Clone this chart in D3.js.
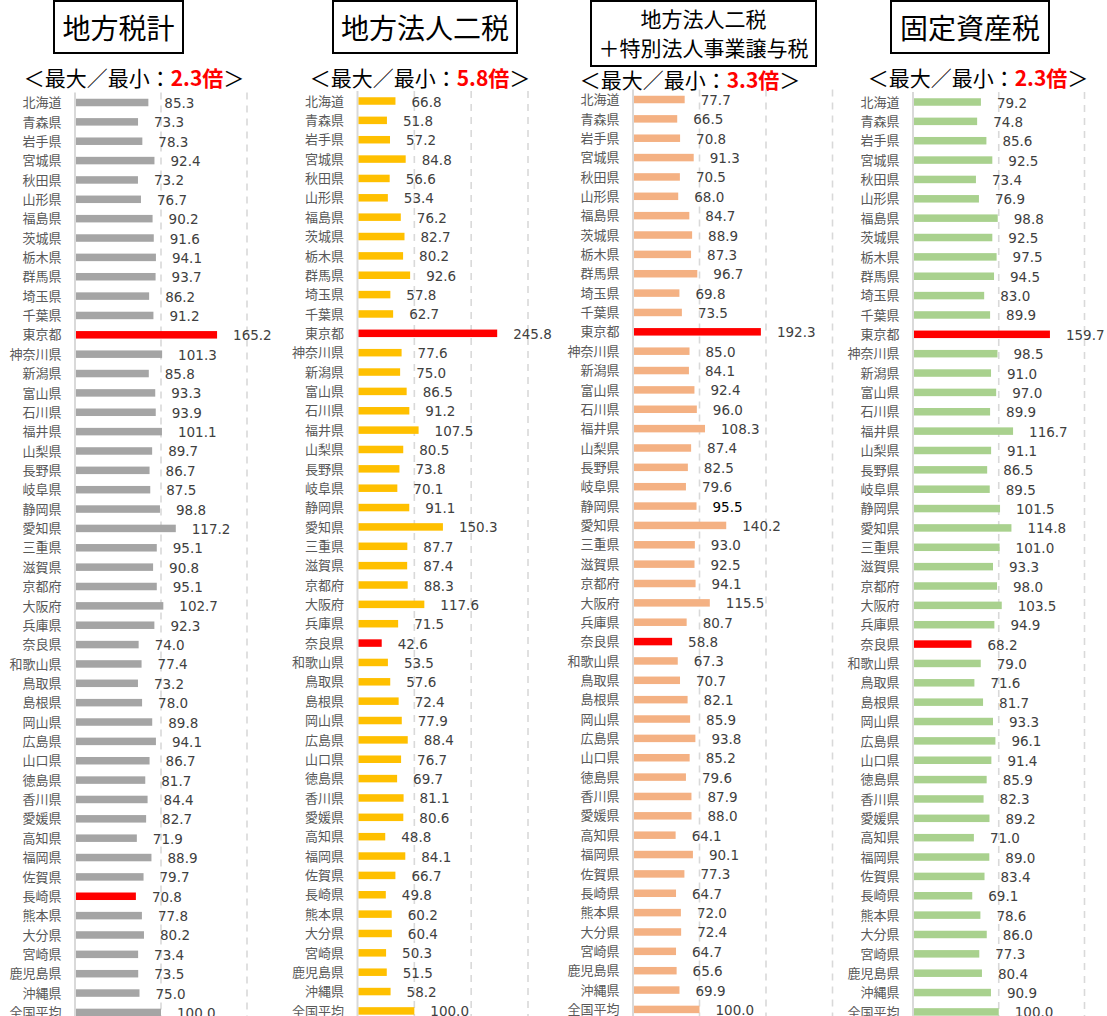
<!DOCTYPE html>
<html lang="ja">
<head>
<meta charset="UTF-8">
<title>tax-by-prefecture</title>
<style>
    body { margin: 0; background: #fff; }
    svg { display: block; }
</style>
<script src="https://d3js.org/d3.v7.min.js"></script>
</head>
<body>
<script>

// categories (47 prefectures + national average)
const prefs = ["北海道","青森県","岩手県","宮城県","秋田県","山形県","福島県","茨城県","栃木県","群馬県",
    "埼玉県","千葉県","東京都","神奈川県","新潟県","富山県","石川県","福井県","山梨県","長野県",
    "岐阜県","静岡県","愛知県","三重県","滋賀県","京都府","大阪府","兵庫県","奈良県","和歌山県",
    "鳥取県","島根県","岡山県","広島県","山口県","徳島県","香川県","愛媛県","高知県","福岡県",
    "佐賀県","長崎県","熊本県","大分県","宮崎県","鹿児島県","沖縄県","全国平均"];

// 地方税計
const localTaxTotal = [85.3,73.3,78.3,92.4,73.2,76.7,90.2,91.6,94.1,93.7,86.2,91.2,165.2,101.3,85.8,93.3,93.9,101.1,89.7,86.7,
    87.5,98.8,117.2,95.1,90.8,95.1,102.7,92.3,74.0,77.4,73.2,78.0,89.8,94.1,86.7,81.7,84.4,82.7,71.9,88.9,
    79.7,70.8,77.8,80.2,73.4,73.5,75.0,100.0];

// 地方法人二税
const corpTwo = [66.8,51.8,57.2,84.8,56.6,53.4,76.2,82.7,80.2,92.6,57.8,62.7,245.8,77.6,75.0,86.5,91.2,107.5,80.5,73.8,
    70.1,91.1,150.3,87.7,87.4,88.3,117.6,71.5,42.6,53.5,57.6,72.4,77.9,88.4,76.7,69.7,81.1,80.6,48.8,84.1,
    66.7,49.8,60.2,60.4,50.3,51.5,58.2,100.0];

// 地方法人二税＋特別法人事業譲与税
const corpTwoPlus = [77.7,66.5,70.8,91.3,70.5,68.0,84.7,88.9,87.3,96.7,69.8,73.5,192.3,85.0,84.1,92.4,96.0,108.3,87.4,82.5,
    79.6,95.5,140.2,93.0,92.5,94.1,115.5,80.7,58.8,67.3,70.7,82.1,85.9,93.8,85.2,79.6,87.9,88.0,64.1,90.1,
    77.3,64.7,72.0,72.4,64.7,65.6,69.9,100.0];

// 固定資産税
const propertyTax = [79.2,74.8,85.6,92.5,73.4,76.9,98.8,92.5,97.5,94.5,83.0,89.9,159.7,98.5,91.0,97.0,89.9,116.7,91.1,86.5,
    89.5,101.5,114.8,101.0,93.3,98.0,103.5,94.9,68.2,79.0,71.6,81.7,93.3,96.1,91.4,85.9,82.3,89.2,71.0,89.0,
    83.4,69.1,78.6,86.0,77.3,80.4,90.9,100.0];

const titles = [["地方税計"], ["地方法人二税"], ["地方法人二税", "＋特別法人事業譲与税"], ["固定資産税"]];
const ratios = ["2.3倍", "5.8倍", "3.3倍", "2.3倍"];
const axisMax = [200, 300, 300, 200];
const darkLabels = [[], [], ["静岡県"], []];

const width = 1107, height = 1016;
const red = "#FF0000";

// layout of the four panels
const panels = [
    {data: localTaxTotal, color: "#A5A5A5", x0: 75,    x1: 247,   row0: 102.5, box: [54, 1, 129, 52],  fs: 28, sub: [134, 77]},
    {data: corpTwo,       color: "#FFC000", x0: 357.5, x1: 528,   row0: 101,   box: [333, 1, 184, 52], fs: 28, sub: [420, 77]},
    {data: corpTwoPlus,   color: "#F4B183", x0: 633,   x1: 832.5, row0: 99.5,  box: [591, 1, 225, 65], fs: 21, sub: [690, 79]},
    {data: propertyTax,   color: "#A9D18E", x0: 913,   x1: 1084.5,row0: 102,   box: [891, 1, 158, 52], fs: 28, sub: [978, 77]}
];

const svg = d3.select("body").append("svg")
    .attr("width", width)
    .attr("height", height);

const rowStep = 19.36;
const barH = 7.5;

panels.forEach(function (p, i) {
    const g = svg.append("g");

    const x = d3.scaleLinear().domain([0, axisMax[i]]).range([p.x0, p.x1]);
    const y = d3.scalePoint().domain(prefs).range([p.row0, p.row0 + rowStep * (prefs.length - 1)]);

    const vals = p.data.slice(0, 47);
    const maxV = d3.max(vals), minV = d3.min(vals);

    // title box
    g.append("rect")
        .attr("x", p.box[0]).attr("y", p.box[1])
        .attr("width", p.box[2]).attr("height", p.box[3])
        .attr("fill", "#fff")
        .attr("stroke", "#000")
        .attr("stroke-width", 2);

    const lines = titles[i];
    lines.forEach(function (t, j) {
        const cy = lines.length === 1 ? p.box[1] + p.box[3] / 2 : p.box[1] + 17 + j * 29;
        g.append("text")
            .attr("x", p.box[0] + p.box[2] / 2)
            .attr("y", cy)
            .attr("text-anchor", "middle")
            .attr("dominant-baseline", "central")
            .style("font-family", "'Noto Sans CJK JP', sans-serif")
            .style("font-size", p.fs + "px")
            .attr("fill", "#000")
            .text(t);
    });

    // subtitle
    const st = g.append("text")
        .attr("x", p.sub[0]).attr("y", p.sub[1])
        .attr("text-anchor", "middle")
        .attr("dominant-baseline", "central")
        .style("font-family", "'Noto Sans CJK JP', sans-serif")
        .style("font-size", "21px")
        .attr("fill", "#000");
    st.append("tspan").text("＜最大／最小：");
    st.append("tspan").attr("fill", red).style("font-weight", "bold").text(ratios[i]);
    st.append("tspan").text("＞");

    const top = p.row0 - 10;

    // dashed gridlines
    g.selectAll(".grid")
        .data(x.ticks(axisMax[i] / 100).filter(d => d > 0))
        .enter().append("line")
        .attr("x1", d => x(d)).attr("x2", d => x(d))
        .attr("y1", top).attr("y2", height)
        .attr("stroke", "#D9D9D9")
        .attr("stroke-width", 1.6)
        .attr("stroke-dasharray", "7,6");

    // category axis
    const ax = g.append("g")
        .attr("transform", "translate(" + (p.x0 - 1) + ",0)")
        .call(d3.axisLeft(y).tickSize(0).tickPadding(12.5));
    ax.select(".domain").remove();
    ax.selectAll("text")
        .style("font-family", "'Noto Sans CJK JP', sans-serif")
        .style("font-size", "13px")
        .attr("fill", "#595959");

    g.append("line")
        .attr("x1", p.x0).attr("x2", p.x0)
        .attr("y1", top).attr("y2", height)
        .attr("stroke", "#D9D9D9")
        .attr("stroke-width", 2);

    // bars
    g.selectAll(".bar")
        .data(p.data)
        .enter().append("rect")
        .attr("x", p.x0 + 1)
        .attr("y", (d, k) => y(prefs[k]) - barH / 2)
        .attr("width", d => x(d) - p.x0 - 1)
        .attr("height", barH)
        .attr("fill", function (d, k) {
            if (k < 47 && (d === maxV || d === minV)) return red;
            return p.color;
        });

    // value labels
    g.selectAll(".val")
        .data(p.data)
        .enter().append("text")
        .attr("x", d => x(d) + 16)
        .attr("y", (d, k) => y(prefs[k]) + 0.5)
        .attr("dominant-baseline", "central")
        .style("font-family", "'DejaVu Sans', 'Noto Sans CJK JP', sans-serif")
        .style("font-size", "13.5px")
        .attr("fill", (d, k) => darkLabels[i].includes(prefs[k]) ? "#000" : "#404040")
        .text(d => d.toFixed(1));
});

</script>
</body>
</html>
